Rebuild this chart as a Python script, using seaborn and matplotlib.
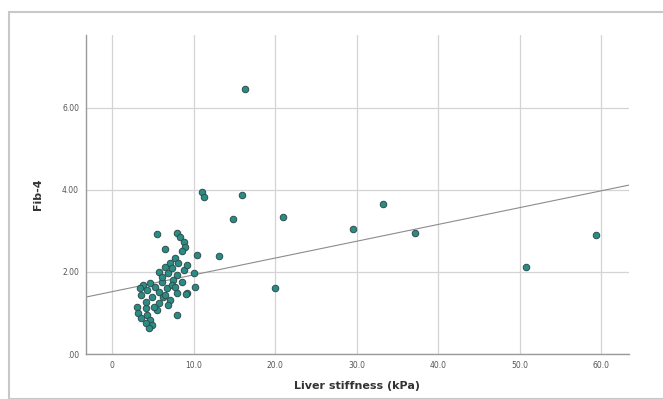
import numpy as np
import pandas as pd
import matplotlib
matplotlib.use('Agg')
import matplotlib.pyplot as plt
import seaborn as sns
from matplotlib.patches import Rectangle

sns.set_style('white')
plt.rcParams['font.family'] = ['DejaVu Sans']

# values
liver_stiffness = [
    5.5, 7.9, 8.3, 8.8, 8.9, 8.6, 6.5, 10.4, 7.7, 7.1, 6.5, 5.7, 6.9, 7.9, 8.8,
    10.0, 7.5, 6.1, 4.7, 3.8, 3.4, 5.3, 6.7, 10.2, 9.2, 7.9, 5.7, 3.6, 4.9, 6.3,
    7.1, 5.7, 6.9, 3.0, 4.1, 5.5, 3.2, 4.3, 7.9, 3.6, 4.7, 4.1, 4.9, 4.5, 9.2,
    7.3, 6.1, 8.6, 7.3, 6.5, 4.1, 5.1, 8.1, 4.3, 7.7,
    16.3, 11.0, 11.3, 15.9, 14.8, 21.0, 33.2, 29.6, 37.2, 59.4, 50.8, 20.0,
    13.1, 9.1,
]
fib4 = [
    2.92, 2.94, 2.86, 2.74, 2.62, 2.50, 2.56, 2.41, 2.33, 2.21, 2.13, 2.01, 1.97,
    1.93, 2.05, 1.97, 1.80, 1.76, 1.72, 1.68, 1.60, 1.64, 1.60, 1.64, 1.48, 1.48,
    1.52, 1.44, 1.40, 1.40, 1.32, 1.24, 1.20, 1.15, 1.11, 1.07, 0.99, 0.95, 0.95,
    0.87, 0.83, 0.75, 0.71, 0.63, 2.17, 2.09, 1.89, 1.76, 1.68, 1.44, 1.28, 1.15,
    2.21, 1.56, 1.64,
    6.47, 3.94, 3.84, 3.89, 3.30, 3.34, 3.66, 3.04, 2.96, 2.91, 2.11, 1.61,
    2.40, 1.47,
]
fit_intercept = 1.52
fit_slope = 0.041

x_ticks = [0, 10, 20, 30, 40, 50, 60]
x_tick_labels = ['0', '10.0', '20.0', '30.0', '40.0', '50.0', '60.0']
y_ticks = [0, 2, 4, 6]
y_tick_labels = ['.00', '2.00', '4.00', '6.00']

df = pd.DataFrame({'Liver stiffness (kPa)': liver_stiffness, 'Fib-4': fib4})

fig = plt.figure(figsize=(6.63, 3.99), dpi=100)
fig.patches.append(Rectangle((9 / 663, 0), 1, 1 - 12 / 399, transform=fig.transFigure,
                             fill=False, edgecolor='#c8c8c8', linewidth=1.5))
ax = fig.add_axes([86 / 663, 1 - 354 / 399, (629 - 86) / 663, (354 - 35) / 399])

ax.grid(True, color='#d4d4d4', linewidth=0.9)
ax.set_axisbelow(True)

ax.axline((0, fit_intercept), slope=fit_slope, color='#8c8c8c', linewidth=0.8, zorder=2)

sns.scatterplot(data=df, x='Liver stiffness (kPa)', y='Fib-4', ax=ax, s=22,
                color='#2b8c86', edgecolor='#2e4f4c', linewidth=0.7, zorder=3)

ax.set_xlim(-3.2, 63.4)
ax.set_ylim(0, 7.78)
ax.set_xticks(x_ticks)
ax.set_xticklabels(x_tick_labels)
ax.set_yticks(y_ticks)
ax.set_yticklabels(y_tick_labels)
ax.tick_params(labelsize=5.5, colors='#555555', length=0, pad=5)

for side in ['top', 'right']:
    ax.spines[side].set_visible(False)
for side in ['left', 'bottom']:
    ax.spines[side].set_color('#9a9a9a')
    ax.spines[side].set_linewidth(1.0)

ax.set_xlabel('Liver stiffness (kPa)', fontsize=8, fontweight='bold', color='#333333', labelpad=8)
ax.set_ylabel('Fib-4', fontsize=8, fontweight='bold', color='#333333', labelpad=14)

fig.savefig('out.png', dpi=100)
